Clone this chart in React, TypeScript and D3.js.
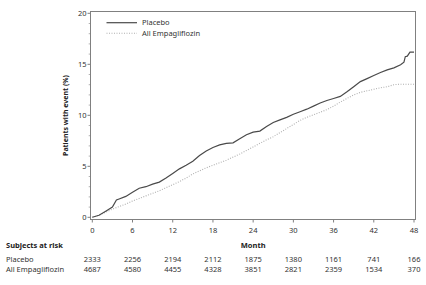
import React from "react";
import * as d3 from "d3";

const placeboMonths = [0,1,2,3,3.6,4,5,6,7,8,9,10,11,12,13,14,15,16,17,18,19,20,21,22,23,24,25,26,27,28,29,30,31,32,33,34,35,36,37,38,39,40,41,42,43,44,45,46,46.5,46.7,47,47.4,48];
const placeboValues = [0,0.2,0.6,1.0,1.7,1.8,2.05,2.45,2.85,3.0,3.25,3.45,3.85,4.3,4.75,5.1,5.5,6.05,6.5,6.85,7.1,7.25,7.3,7.7,8.1,8.35,8.45,8.9,9.3,9.55,9.8,10.1,10.35,10.6,10.9,11.2,11.45,11.65,11.85,12.3,12.8,13.3,13.6,13.9,14.2,14.45,14.65,14.95,15.2,15.75,15.8,16.2,16.2];

const empaMonths = [0,1,2,3,4,5,6,7,8,9,10,11,12,13,14,15,16,17,18,19,20,21,22,23,24,25,26,27,28,29,30,31,32,33,34,35,36,37,38,39,40,41,42,43,44,45,46,47,48];
const empaValues = [0,0.2,0.5,0.8,1.05,1.3,1.6,1.85,2.1,2.35,2.6,2.9,3.2,3.5,3.85,4.25,4.55,4.85,5.1,5.35,5.6,5.9,6.2,6.55,6.9,7.25,7.6,7.9,8.3,8.7,9.1,9.5,9.8,10.05,10.3,10.55,10.9,11.3,11.65,12.0,12.25,12.4,12.55,12.7,12.8,13.0,13.05,13.05,13.05];

const xTicks = [0,6,12,18,24,30,36,42,48];
const yTicks = [0,5,10,15,20];
const yMinorTicks = [1,2,3,4,6,7,8,9,11,12,13,14,16,17,18,19];
const riskPlacebo = [2333,2256,2194,2112,1875,1380,1161,741,166];
const riskEmpa = [4687,4580,4455,4328,3851,2821,2359,1534,370];
const seriesNames = ["Placebo", "All Empagliflozin"];

const FONT = "'Noto Sans', 'DejaVu Sans', sans-serif";

export default function App() {
  const W = 426, H = 285;
  const x = d3.scaleLinear().domain([0, 48]).range([92.3, 414]);
  const y = d3.scaleLinear().domain([0, 20]).range([217.3, 13.3]);
  const frame = { left: 90.5, right: 415.5, top: 11.5, bottom: 219.5 };

  const line = d3.line<[number, number]>().x(d => x(d[0])).y(d => y(d[1])).curve(d3.curveLinear);
  const pPath = line(placeboMonths.map((m, i) => [m, placeboValues[i]] as [number, number])) || "";
  const ePath = line(empaMonths.map((m, i) => [m, empaValues[i]] as [number, number])) || "";

  const axisColor = "#808080";
  const textColor = "#333";

  return (
    <svg width={W} height={H} style={{ position: "absolute", left: 0, top: 0 }} fontFamily={FONT}>
      <rect x={0} y={0} width={W} height={H} fill="#fff" />
      <rect x={frame.left} y={frame.top} width={frame.right - frame.left} height={frame.bottom - frame.top} fill="none" stroke={axisColor} strokeWidth={1} />
      {yTicks.map(t => (
        <g key={"y" + t}>
          <line x1={frame.left - 3} x2={frame.left} y1={y(t)} y2={y(t)} stroke={axisColor} />
          <text x={frame.left - 4} y={y(t)} dy="0.35em" textAnchor="end" fontSize={7.5} fill={textColor}>{t}</text>
        </g>
      ))}
      {yMinorTicks.map(t => (
        <line key={"ym" + t} x1={frame.left - 1.8} x2={frame.left} y1={y(t)} y2={y(t)} stroke={axisColor} strokeWidth={0.6} />
      ))}
      {xTicks.map(t => (
        <g key={"x" + t}>
          <line x1={x(t)} x2={x(t)} y1={frame.bottom} y2={frame.bottom + 3} stroke={axisColor} />
          <text x={x(t)} y={230} dy="0.35em" textAnchor="middle" fontSize={7.5} fill={textColor}>{t}</text>
        </g>
      ))}
      <text transform={`translate(68,${(frame.top + frame.bottom) / 2}) rotate(-90)`} textAnchor="middle" fontSize={7} fontWeight="bold" fill="#222">Patients with event (%)</text>
      <path d={ePath} fill="none" stroke="#b0b0b0" strokeWidth={1.1} strokeDasharray="1 1.5" />
      <path d={pPath} fill="none" stroke="#4a4a4a" strokeWidth={1.2} />
      <line x1={106.5} x2={137} y1={22.7} y2={22.7} stroke="#4a4a4a" strokeWidth={1.2} />
      <text x={142} y={22.7} dy="0.35em" fontSize={7.5} fill={textColor}>{seriesNames[0]}</text>
      <line x1={106.5} x2={137} y1={33.3} y2={33.3} stroke="#b0b0b0" strokeWidth={1.1} strokeDasharray="1 1.5" />
      <text x={142} y={33.3} dy="0.35em" fontSize={7.5} fill={textColor}>{seriesNames[1]}</text>
      <text x={6} y={245} dy="0.35em" fontSize={7.5} fontWeight="bold" fill="#222">Subjects at risk</text>
      <text x={x(24)} y={245} dy="0.35em" textAnchor="middle" fontSize={7.5} fontWeight="bold" fill="#222">Month</text>
      <text x={6} y={259.3} dy="0.35em" fontSize={7.5} fill={textColor}>{seriesNames[0]}</text>
      <text x={6} y={269.3} dy="0.35em" fontSize={7.5} fill={textColor}>{seriesNames[1]}</text>
      {xTicks.map((t, i) => (
        <g key={"r" + t}>
          <text x={x(t)} y={259.3} dy="0.35em" textAnchor="middle" fontSize={7.5} fill={textColor}>{riskPlacebo[i]}</text>
          <text x={x(t)} y={269.3} dy="0.35em" textAnchor="middle" fontSize={7.5} fill={textColor}>{riskEmpa[i]}</text>
        </g>
      ))}
    </svg>
  );
}
